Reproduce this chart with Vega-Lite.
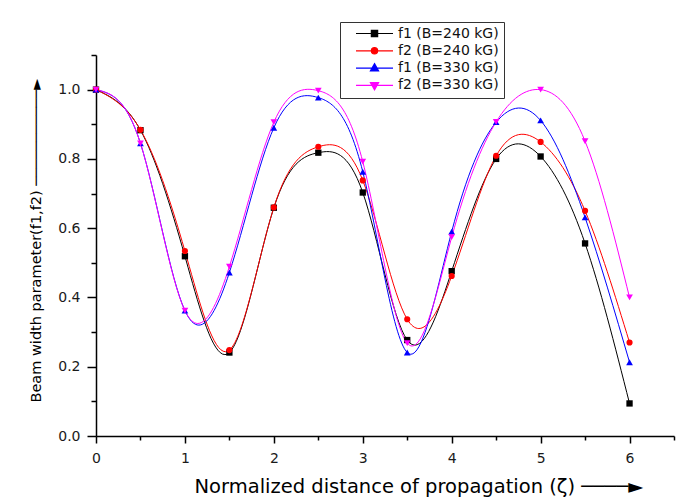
{
  "$schema": "https://vega.github.io/schema/vega-lite/v6.json",
  "width": 578,
  "height": 381,
  "autosize": {"type": "none"},
  "padding": {"left": 96, "top": 55, "right": 3, "bottom": 68},
  "background": "white",
  "config": {
    "view": {"stroke": null},
    "font": "DejaVu Sans",
    "axis": {"grid": false, "domainColor": "#000000", "domainWidth": 1.5, "tickColor": "#000000", "tickWidth": 1.5, "labelColor": "#1a1a1a", "labelFontSize": 14, "labelFont": "DejaVu Sans", "titleFont": "DejaVu Sans", "titleFontWeight": "normal", "titleColor": "#000000", "labelOverlap": false, "labelFlush": false}
  },
  "data": {
    "values": [
      {"zeta": 0.0, "f": 1.0, "series": "f1 (B=240 kG)"},
      {"zeta": 0.5, "f": 0.883, "series": "f1 (B=240 kG)"},
      {"zeta": 1.0, "f": 0.519, "series": "f1 (B=240 kG)"},
      {"zeta": 1.5, "f": 0.241, "series": "f1 (B=240 kG)"},
      {"zeta": 2.0, "f": 0.659, "series": "f1 (B=240 kG)"},
      {"zeta": 2.5, "f": 0.818, "series": "f1 (B=240 kG)"},
      {"zeta": 3.0, "f": 0.703, "series": "f1 (B=240 kG)"},
      {"zeta": 3.5, "f": 0.277, "series": "f1 (B=240 kG)"},
      {"zeta": 4.0, "f": 0.476, "series": "f1 (B=240 kG)"},
      {"zeta": 4.5, "f": 0.8, "series": "f1 (B=240 kG)"},
      {"zeta": 5.0, "f": 0.807, "series": "f1 (B=240 kG)"},
      {"zeta": 5.5, "f": 0.556, "series": "f1 (B=240 kG)"},
      {"zeta": 6.0, "f": 0.094, "series": "f1 (B=240 kG)"},
      {"zeta": 0.0, "f": 1.0, "series": "f2 (B=240 kG)"},
      {"zeta": 0.5, "f": 0.884, "series": "f2 (B=240 kG)"},
      {"zeta": 1.0, "f": 0.534, "series": "f2 (B=240 kG)"},
      {"zeta": 1.5, "f": 0.248, "series": "f2 (B=240 kG)"},
      {"zeta": 2.0, "f": 0.66, "series": "f2 (B=240 kG)"},
      {"zeta": 2.5, "f": 0.835, "series": "f2 (B=240 kG)"},
      {"zeta": 3.0, "f": 0.738, "series": "f2 (B=240 kG)"},
      {"zeta": 3.5, "f": 0.337, "series": "f2 (B=240 kG)"},
      {"zeta": 4.0, "f": 0.462, "series": "f2 (B=240 kG)"},
      {"zeta": 4.5, "f": 0.809, "series": "f2 (B=240 kG)"},
      {"zeta": 5.0, "f": 0.849, "series": "f2 (B=240 kG)"},
      {"zeta": 5.5, "f": 0.65, "series": "f2 (B=240 kG)"},
      {"zeta": 6.0, "f": 0.27, "series": "f2 (B=240 kG)"},
      {"zeta": 0.0, "f": 1.0, "series": "f1 (B=330 kG)"},
      {"zeta": 0.5, "f": 0.845, "series": "f1 (B=330 kG)"},
      {"zeta": 1.0, "f": 0.362, "series": "f1 (B=330 kG)"},
      {"zeta": 1.5, "f": 0.472, "series": "f1 (B=330 kG)"},
      {"zeta": 2.0, "f": 0.89, "series": "f1 (B=330 kG)"},
      {"zeta": 2.5, "f": 0.977, "series": "f1 (B=330 kG)"},
      {"zeta": 3.0, "f": 0.763, "series": "f1 (B=330 kG)"},
      {"zeta": 3.5, "f": 0.241, "series": "f1 (B=330 kG)"},
      {"zeta": 4.0, "f": 0.59, "series": "f1 (B=330 kG)"},
      {"zeta": 4.5, "f": 0.906, "series": "f1 (B=330 kG)"},
      {"zeta": 5.0, "f": 0.911, "series": "f1 (B=330 kG)"},
      {"zeta": 5.5, "f": 0.631, "series": "f1 (B=330 kG)"},
      {"zeta": 6.0, "f": 0.213, "series": "f1 (B=330 kG)"},
      {"zeta": 0.0, "f": 1.0, "series": "f2 (B=330 kG)"},
      {"zeta": 0.5, "f": 0.845, "series": "f2 (B=330 kG)"},
      {"zeta": 1.0, "f": 0.362, "series": "f2 (B=330 kG)"},
      {"zeta": 1.5, "f": 0.489, "series": "f2 (B=330 kG)"},
      {"zeta": 2.0, "f": 0.906, "series": "f2 (B=330 kG)"},
      {"zeta": 2.5, "f": 0.997, "series": "f2 (B=330 kG)"},
      {"zeta": 3.0, "f": 0.792, "series": "f2 (B=330 kG)"},
      {"zeta": 3.5, "f": 0.268, "series": "f2 (B=330 kG)"},
      {"zeta": 4.0, "f": 0.574, "series": "f2 (B=330 kG)"},
      {"zeta": 4.5, "f": 0.907, "series": "f2 (B=330 kG)"},
      {"zeta": 5.0, "f": 1.0, "series": "f2 (B=330 kG)"},
      {"zeta": 5.5, "f": 0.851, "series": "f2 (B=330 kG)"},
      {"zeta": 6.0, "f": 0.4, "series": "f2 (B=330 kG)"}
    ]
  },
  "encoding": {
    "x": {
      "field": "zeta", "type": "quantitative",
      "scale": {"domain": [0, 6.5], "nice": false, "zero": false},
      "axis": {
        "values": [0, 0.5, 1, 1.5, 2, 2.5, 3, 3.5, 4, 4.5, 5, 5.5, 6, 6.5],
        "labelExpr": "round(datum.value*2)%2===0 ? format(datum.value,'d') : ''",
        "tickSize": 7,
        "labelPadding": 8,
        "title": "Normalized distance of propagation (ζ) ────►",
        "titleFontSize": 19.5,
        "titleAlign": "left",
        "titleAnchor": "start",
        "titleX": 98,
        "titleY": 56,
        "titleBaseline": "alphabetic",
        "encoding": {"ticks": {"y2": {"value": {"expr": "round(datum.value*2)%2===0 ? 7 : 4"}}}}
      }
    },
    "y": {
      "field": "f", "type": "quantitative",
      "scale": {"domain": [0, 1.1], "nice": false, "zero": false},
      "axis": {
        "values": [0, 0.1, 0.2, 0.3, 0.4, 0.5, 0.6, 0.7, 0.8, 0.9, 1.0, 1.1],
        "labelExpr": "round(datum.value*10)%2===0 ? format(datum.value,'.1f') : ''",
        "tickSize": 9,
        "labelPadding": 7,
        "title": "Beam width parameter(f1,f2) ───────────►",
        "titleFontSize": 14.5,
        "titleAngle": 270,
        "titleAlign": "left",
        "titleAnchor": "start",
        "titleBaseline": "middle",
        "titleX": -60,
        "titleY": 347,
        "encoding": {"ticks": {"x2": {"value": {"expr": "round(datum.value*10)%2===0 ? -9 : -5"}}}}
      }
    },
    "color": {
      "field": "series", "type": "nominal",
      "scale": {
        "domain": ["f1 (B=240 kG)", "f2 (B=240 kG)", "f1 (B=330 kG)", "f2 (B=330 kG)"],
        "range": ["#000000", "#ff0000", "#0000ff", "#ff00ff"]
      },
      "legend": {
        "orient": "none",
        "legendX": 244,
        "legendY": -33,
        "title": null,
        "strokeColor": "#333333",
        "fillColor": "#ffffff",
        "padding": 5,
        "symbolSize": 1369,
        "symbolStrokeWidth": 1.2,
        "clipHeight": 13,
        "rowPadding": 2.3,
        "symbolOffset": 10,
        "labelOffset": 4,
        "labelFontSize": 14,
        "labelFont": "DejaVu Sans",
        "labelColor": "#111111",
        "labelLimit": 300,
        "encoding": {
          "symbols": {
            "shape": {"value": {"expr": "['M-1,0H1M-0.17,-0.17H0.17V0.17H-0.17Z','M-1,0H1M0.17,0A0.17,0.17,0,1,1,-0.17,0A0.17,0.17,0,1,1,0.17,0Z','M-1,0H1M0,-0.24L0.22,0.15H-0.22Z','M-1,0H1M0,0.24L0.22,-0.15H-0.22Z'][indexof(['f1 (B=240 kG)','f2 (B=240 kG)','f1 (B=330 kG)','f2 (B=330 kG)'], datum.value)]"}},
            "fill": {"value": {"expr": "['#000000','#ff0000','#0000ff','#ff00ff'][indexof(['f1 (B=240 kG)','f2 (B=240 kG)','f1 (B=330 kG)','f2 (B=330 kG)'], datum.value)]"}},
            "stroke": {"value": {"expr": "['#000000','#ff0000','#0000ff','#ff00ff'][indexof(['f1 (B=240 kG)','f2 (B=240 kG)','f1 (B=330 kG)','f2 (B=330 kG)'], datum.value)]"}},
            "strokeWidth": {"value": 1.2},
            "size": {"value": 1369},
            "opacity": {"value": 1}
          }
        }
      }
    }
  },
  "layer": [
    {"mark": {"type": "line", "interpolate": "natural", "strokeWidth": 1}},
    {
      "transform": [{"filter": "datum.series === 'f1 (B=240 kG)'"}],
      "mark": {"type": "point", "shape": "square", "filled": true, "opacity": 1, "size": 40}
    },
    {
      "transform": [{"filter": "datum.series === 'f2 (B=240 kG)'"}],
      "mark": {"type": "point", "shape": "circle", "filled": true, "opacity": 1, "size": 38}
    },
    {
      "transform": [{"filter": "datum.series === 'f1 (B=330 kG)'"}],
      "mark": {"type": "point", "shape": "triangle-up", "filled": true, "opacity": 1, "size": 45}
    },
    {
      "transform": [{"filter": "datum.series === 'f2 (B=330 kG)'"}],
      "mark": {"type": "point", "shape": "triangle-down", "filled": true, "opacity": 1, "size": 45}
    }
  ]
}
